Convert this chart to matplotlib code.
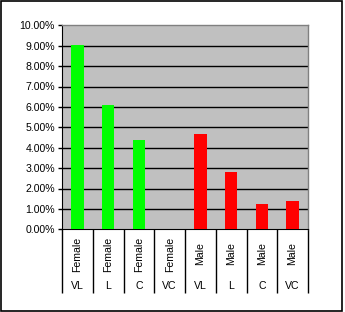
import matplotlib
matplotlib.use("Agg")
import matplotlib.pyplot as plt
from matplotlib.patches import Rectangle
import matplotlib.transforms as mtransforms

plt.rcParams['font.family'] = ['Liberation Sans', 'DejaVu Sans']

genders = ["Female", "Female", "Female", "Female", "Male", "Male", "Male", "Male"]
sizes = ["VL", "L", "C", "VC", "VL", "L", "C", "VC"]
values = [9.03, 6.09, 4.38, 0.0, 4.67, 2.81, 1.25, 1.40]
colors = ["#00FF00"] * 4 + ["#FF0000"] * 4
yticks = [0, 1, 2, 3, 4, 5, 6, 7, 8, 9, 10]

W, H = 345, 312
FS = 7.6
fig = plt.figure(figsize=(W / 100, H / 100), dpi=100)
ax = fig.add_axes([62 / W, (H - 229.3) / H, 246 / W, 204 / H])
ax.set_facecolor("#C0C0C0")

x = list(range(len(values)))
ax.bar(x, values, width=0.41, color=colors, zorder=3)
ax.set_xlim(-0.5, len(values) - 0.5)
ax.set_ylim(0, 10)
ax.set_yticks(yticks)
ax.set_yticklabels([f"{v:.2f}%" for v in yticks], fontsize=FS)
for v in yticks[1:-1]:
    ax.axhline(v, color="black", lw=1.0, zorder=2)

for s in ["top", "right"]:
    ax.spines[s].set_color("#808080")
    ax.spines[s].set_linewidth(1.0)
ax.spines["left"].set_color("black")
ax.spines["bottom"].set_color("black")
ax.tick_params(axis="y", direction="out", length=3, width=1, pad=2, colors="black")

# category separators
ax.set_xticks([i - 0.5 for i in range(len(values) + 1)])
ax.set_xticklabels([])
ax.tick_params(axis="x", direction="out", length=64 * 0.72, width=1, colors="black")

trans = mtransforms.blended_transform_factory(ax.transData, fig.transFigure)
for i, (g, s) in enumerate(zip(genders, sizes)):
    ax.text(i, (H - 254) / H, g, transform=trans, rotation=90, ha="center",
            va="center", fontsize=FS)
    ax.text(i, (H - 286) / H, s, transform=trans, ha="center", va="center",
            fontsize=FS)

fig.patches.append(Rectangle((0.8 / W, 0.8 / H), 341 / W, 310 / H,
                             transform=fig.transFigure, fill=False,
                             edgecolor="black", lw=1.2))

fig.savefig("out.png", dpi=100)
